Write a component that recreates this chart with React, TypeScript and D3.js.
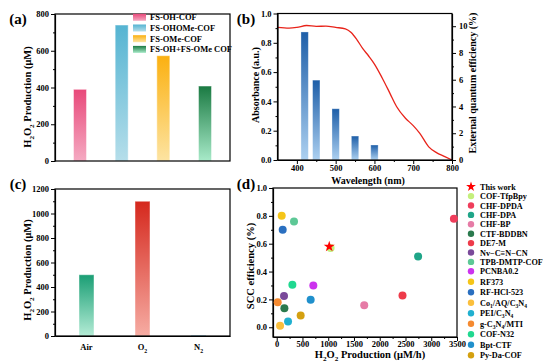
import { useEffect, useRef } from "react";
import * as d3 from "d3";

const FONT = "'Liberation Serif','Times New Roman',serif";

// (a) H2O2 production of the four COFs
const aNames = ["FS-OH-COF", "FS-OHOMe-COF", "FS-OMe-COF", "FS-OH+FS-OMe COF"];
const aValues = [390, 740, 573, 408];
const aTop = ["#e8497a", "#55b4d2", "#fbb010", "#1a7a42"];
const aBottom = ["#f5aac2", "#b5deea", "#fde4a2", "#a8eac9"];
const aTicks = [0, 200, 400, 600, 800];

// (b) absorbance curve + EQE bars
const absWl = [350, 380, 400, 425, 450, 475, 500, 525, 540, 555, 570, 585, 600, 620, 640, 657, 680, 700, 717, 740, 760, 780, 800];
const absVal = [0.905, 0.9, 0.905, 0.918, 0.912, 0.914, 0.905, 0.895, 0.87, 0.82, 0.76, 0.71, 0.655, 0.56, 0.455, 0.365, 0.285, 0.235, 0.182, 0.09, 0.05, 0.025, 0.0];
const eqeWl = [420, 450, 500, 550, 600];
const eqeVal = [9.57, 5.97, 3.83, 1.79, 1.12];
const bXTicks = [400, 500, 600, 700, 800];
const bLeftTicks = [0, 0.2, 0.4, 0.6, 0.8, 1.0];
const bRightTicks = [0, 2, 4, 6, 8, 10];

// (c) atmosphere
const cNames = ["Air", "O_2", "N_2"];
const cValues = [500, 1100, 6];
const cTop = ["#1a9e74", "#d5281d", "#3aa5d8"];
const cBottom = ["#b4ecd6", "#f6aca3", "#8fd0ee"];
const cTicks = [0, 200, 400, 600, 800, 1000, 1200];

// (d) comparison with literature
const dNames = ["This work", "COF-TfpBpy", "CHF-DPDA", "CHF-DPA", "CHF-BP", "CTF-BDDBN", "DE7-M", "Nv\u2212C\u2261N\u2212CN", "TPB-DMTP-COF", "PCNBA0.2", "RF373", "RF-HCl-523", "Co_1/AQ/C_3N_4", "PEI/C_3N_4", "g-C_3N_4/MTI", "COF-N32", "Bpt-CTF", "Py-Da-COF"];
const dX = [1020, 1046, 3440, 2745, 1699, 149, 2442, 142, 336, 711, 97, 116, 65, 220, 19, 304, 659, 465];
const dY = [0.58, 0.57, 0.78, 0.508, 0.158, 0.137, 0.228, 0.225, 0.76, 0.30, 0.80, 0.70, 0.01, 0.041, 0.18, 0.305, 0.197, 0.084];
const dColors = ["#ff0000", "#c4ef7c", "#ef3d5b", "#1fa588", "#e67ba6", "#2a7a4e", "#ee3b4a", "#7a4a9a", "#5dc896", "#cc33ee", "#f5c518", "#2a6fc0", "#fbbf3c", "#20b0d0", "#f58a30", "#20d890", "#2090cc", "#d4a010"];
const dXTicks = [0, 500, 1000, 1500, 2000, 2500, 3000, 3500];
const dYTicks = [0, 0.2, 0.4, 0.6, 0.8, 1.0];

function parts(s) {
  const out = [];
  let buf = "";
  for (let i = 0; i < s.length; i++) {
    if (s[i] === "_" && i + 1 < s.length) {
      if (buf) out.push([buf, false]);
      buf = "";
      out.push([s[i + 1], true]);
      i++;
    } else buf += s[i];
  }
  if (buf) out.push([buf, false]);
  return out;
}

function rich(text, s, size, shiftK = 0.3) {
  let shifted = false;
  const sh = size * shiftK;
  parts(s).forEach(([t, sub]) => {
    const ts = text.append("tspan").text(t);
    if (sub) {
      ts.attr("font-size", size * 0.68);
      if (!shifted) ts.attr("dy", sh);
      shifted = true;
    } else {
      if (shifted) ts.attr("dy", -sh);
      shifted = false;
    }
  });
  return text;
}

function label(g, s, x, y, size, opts = {}) {
  const t = g.append("text")
    .attr("font-family", FONT)
    .attr("font-weight", "bold")
    .attr("font-size", size)
    .attr("fill", "#000")
    .attr("text-anchor", opts.anchor || "middle");
  if (opts.rotate) t.attr("transform", `translate(${x},${y}) rotate(-90)`);
  else t.attr("x", x).attr("y", y);
  return rich(t, s, size, opts.shift ?? 0.3);
}

function styleAxis(sel) {
  sel.selectAll("path").attr("stroke", "#000").attr("stroke-width", 1.2);
  sel.selectAll("line").attr("stroke", "#000").attr("stroke-width", 1);
  sel.selectAll("text")
    .attr("font-family", FONT)
    .attr("font-weight", "bold")
    .attr("font-size", 8.5)
    .attr("fill", "#000");
}

function minors(ticks) {
  const m = [];
  for (let i = 0; i < ticks.length - 1; i++) m.push((ticks[i] + ticks[i + 1]) / 2);
  return m;
}

function frame(g, p) {
  g.append("rect")
    .attr("x", p.l).attr("y", p.t)
    .attr("width", p.r - p.l).attr("height", p.b - p.t)
    .attr("fill", "none").attr("stroke", "#000").attr("stroke-width", 1.2);
}

function gradient(defs, id, top, bottom) {
  const lg = defs.append("linearGradient").attr("id", id)
    .attr("x1", 0).attr("y1", 0).attr("x2", 0).attr("y2", 1);
  lg.append("stop").attr("offset", "0%").attr("stop-color", top);
  lg.append("stop").attr("offset", "100%").attr("stop-color", bottom);
}

function yAxisLeft(g, p, y, ticks, fmt) {
  const ax = g.append("g").attr("transform", `translate(${p.l},0)`)
    .call(d3.axisLeft(y).tickValues(ticks).tickSize(4).tickSizeOuter(0).tickFormat(fmt).tickPadding(2));
  styleAxis(ax);
  const mn = g.append("g").attr("transform", `translate(${p.l},0)`)
    .call(d3.axisLeft(y).tickValues(minors(ticks)).tickSize(2).tickFormat(() => ""));
  mn.select("path").remove();
  styleAxis(mn);
}

export default function App() {
  const ref = useRef(null);

  useEffect(() => {
    const svg = d3.select(ref.current);
    svg.selectAll("*").remove();
    const defs = svg.append("defs");

    // ---------- (a) ----------
    const A = { l: 55, r: 230, t: 14, b: 161 };
    const ax = d3.scalePoint().domain(aNames).range([A.l, A.r]).padding(0.6);
    const ay = d3.scaleLinear().domain([0, 800]).range([A.b, A.t]);
    aNames.forEach((n, i) => gradient(defs, "ga" + i, aTop[i], aBottom[i]));
    const ga = svg.append("g");
    ga.selectAll("rect.bar").data(aValues).join("rect")
      .attr("class", "bar")
      .attr("x", (d, i) => ax(aNames[i]) - 6.5)
      .attr("width", 13)
      .attr("y", (d) => ay(d))
      .attr("height", (d) => A.b - ay(d))
      .attr("fill", (d, i) => `url(#ga${i})`)
      .attr("stroke", "#fff").attr("stroke-opacity", 0.45).attr("stroke-width", 1);
    frame(ga, A);
    yAxisLeft(ga, A, ay, aTicks, d3.format("d"));
    const la = ga.append("g");
    aNames.forEach((n, i) => {
      const yy = 17.3 + i * 10.7;
      la.append("rect").attr("x", 133).attr("y", yy - 3.5).attr("width", 13).attr("height", 7)
        .attr("fill", `url(#ga${i})`);
      label(la, n, 150, yy + 3, 8.5, { anchor: "start" });
    });
    label(ga, "H_2O_2 Production (\u03bcM)", 31, 97, 10.5, { rotate: true });
    label(ga, "(a)", 18, 24, 15);

    // ---------- (b) ----------
    const B = { l: 277.5, r: 452, t: 13.5, b: 160 };
    const bx = d3.scaleLinear().domain([350, 800]).range([B.l, B.r]);
    const byL = d3.scaleLinear().domain([0, 1]).range([B.b, B.t]);
    const byR = d3.scaleLinear().domain([0, 10.95]).range([B.b, B.t]);
    gradient(defs, "gb", "#1d5ea8", "#acd0f0");
    const gb = svg.append("g");
    const bw = bx(369) - bx(350);
    gb.selectAll("rect.eqe").data(eqeVal).join("rect")
      .attr("class", "eqe")
      .attr("x", (d, i) => bx(eqeWl[i]) - bw / 2)
      .attr("width", bw)
      .attr("y", (d) => byR(d))
      .attr("height", (d) => B.b - byR(d))
      .attr("fill", "url(#gb)")
      .attr("stroke", "#fff").attr("stroke-opacity", 0.4).attr("stroke-width", 0.8);
    gb.append("path")
      .datum(absWl.map((w, i) => [w, absVal[i]]))
      .attr("d", d3.line().x((d) => bx(d[0])).y((d) => byL(d[1])).curve(d3.curveMonotoneX))
      .attr("fill", "none").attr("stroke", "#e8231a").attr("stroke-width", 1.3);
    frame(gb, B);
    yAxisLeft(gb, B, byL, bLeftTicks, d3.format(".1f"));
    const bR = gb.append("g").attr("transform", `translate(${B.r},0)`)
      .call(d3.axisRight(byR).tickValues(bRightTicks).tickSize(4).tickSizeOuter(0).tickFormat(d3.format("d")).tickPadding(3));
    styleAxis(bR);
    const bRm = gb.append("g").attr("transform", `translate(${B.r},0)`)
      .call(d3.axisRight(byR).tickValues([1, 3, 5, 7, 9]).tickSize(2).tickFormat(() => ""));
    bRm.select("path").remove();
    styleAxis(bRm);
    const bB = gb.append("g").attr("transform", `translate(0,${B.b})`)
      .call(d3.axisBottom(bx).tickValues(bXTicks).tickSize(4).tickSizeOuter(0).tickFormat(d3.format("d")).tickPadding(1));
    styleAxis(bB);
    const bBm = gb.append("g").attr("transform", `translate(0,${B.b})`)
      .call(d3.axisBottom(bx).tickValues([450, 550, 650, 750]).tickSize(2).tickFormat(() => ""));
    bBm.select("path").remove();
    styleAxis(bBm);
    label(gb, "Absorbance (a.u.)", 258.5, 85, 10, { rotate: true });
    label(gb, "External quantum efficiency (%)", 475.5, 83, 10, { rotate: true });
    label(gb, "Wavelength (nm)", 368, 183.5, 10);
    label(gb, "(b)", 246, 24, 15);

    // ---------- (c) ----------
    const C = { l: 55, r: 230, t: 189, b: 336 };
    const cx = d3.scalePoint().domain(cNames).range([C.l, C.r]).padding(0.5625);
    const cy = d3.scaleLinear().domain([0, 1200]).range([C.b, C.t]);
    cNames.forEach((n, i) => gradient(defs, "gc" + i, cTop[i], cBottom[i]));
    const gc = svg.append("g");
    gc.selectAll("rect.bar").data(cValues).join("rect")
      .attr("class", "bar")
      .attr("x", (d, i) => cx(cNames[i]) - 7.5)
      .attr("width", 15)
      .attr("y", (d) => cy(d))
      .attr("height", (d) => C.b - cy(d))
      .attr("fill", (d, i) => `url(#gc${i})`)
      .attr("stroke", "#fff").attr("stroke-opacity", 0.45).attr("stroke-width", 1);
    frame(gc, C);
    yAxisLeft(gc, C, cy, cTicks, d3.format("d"));
    const cB = gc.append("g").attr("transform", `translate(0,${C.b})`)
      .call(d3.axisBottom(cx).tickSize(0).tickSizeOuter(0).tickFormat(() => ""));
    styleAxis(cB);
    cNames.forEach((n) => label(gc, n, cx(n), 350, 8.5));
    label(gc, "H_2O_2 Production (\u03bcM)", 31, 270, 10.5, { rotate: true });
    label(gc, "(c)", 18, 189, 15);

    // ---------- (d) ----------
    const D = { l: 273, r: 457, t: 188, b: 337 };
    const dx = d3.scaleLinear().domain([-72, 3500]).range([D.l, D.r]);
    const dy = d3.scaleLinear().domain([-0.07, 1.0]).range([D.b, D.t]);
    const gd = svg.append("g");
    frame(gd, D);
    yAxisLeft(gd, D, dy, dYTicks, d3.format(".1f"));
    const dB = gd.append("g").attr("transform", `translate(0,${D.b})`)
      .call(d3.axisBottom(dx).tickValues(dXTicks).tickSize(4).tickSizeOuter(0).tickFormat(d3.format("d")).tickPadding(0));
    styleAxis(dB);
    const dBm = gd.append("g").attr("transform", `translate(0,${D.b})`)
      .call(d3.axisBottom(dx).tickValues(minors(dXTicks)).tickSize(2).tickFormat(() => ""));
    dBm.select("path").remove();
    styleAxis(dBm);
    const idx = d3.range(1, dNames.length);
    gd.selectAll("circle.pt").data(idx).join("circle")
      .attr("class", "pt")
      .attr("cx", (i) => dx(dX[i]))
      .attr("cy", (i) => dy(dY[i]))
      .attr("r", 4)
      .attr("fill", (i) => dColors[i]);
    gd.append("path")
      .attr("d", d3.symbol(d3.symbolStar, 38)())
      .attr("transform", `translate(${dx(dX[0])},${dy(dY[0])})`)
      .attr("fill", dColors[0]);
    // legend: rows below PCNBA0.2 are spaced a little wider (subscripted names)
    const rowY = (i) => (i <= 9 ? 186.7 + i * 9.4 : 271.3 + (i - 9) * 10.5);
    const ld = gd.append("g");
    dNames.forEach((n, i) => {
      const yy = rowY(i);
      if (i === 0) {
        ld.append("path").attr("d", d3.symbol(d3.symbolStar, 30)())
          .attr("transform", `translate(471,${yy})`).attr("fill", dColors[0]);
      } else {
        ld.append("circle").attr("cx", 471).attr("cy", yy).attr("r", 3.2).attr("fill", dColors[i]);
      }
      label(ld, n, 480, yy + 3, 8.2, { anchor: "start", shift: 0.22 });
    });
    label(gd, "SCC efficiency (%)", 253.5, 266, 10.5, { rotate: true });
    label(gd, "H_2O_2 Production (\u03bcM/h)", 370, 357.5, 10.5);
    label(gd, "(d)", 246, 189, 15);
  }, []);

  return (
    <svg ref={ref} width={550} height={362}
      style={{ position: "absolute", left: 0, top: 0, background: "#fff" }} />
  );
}
